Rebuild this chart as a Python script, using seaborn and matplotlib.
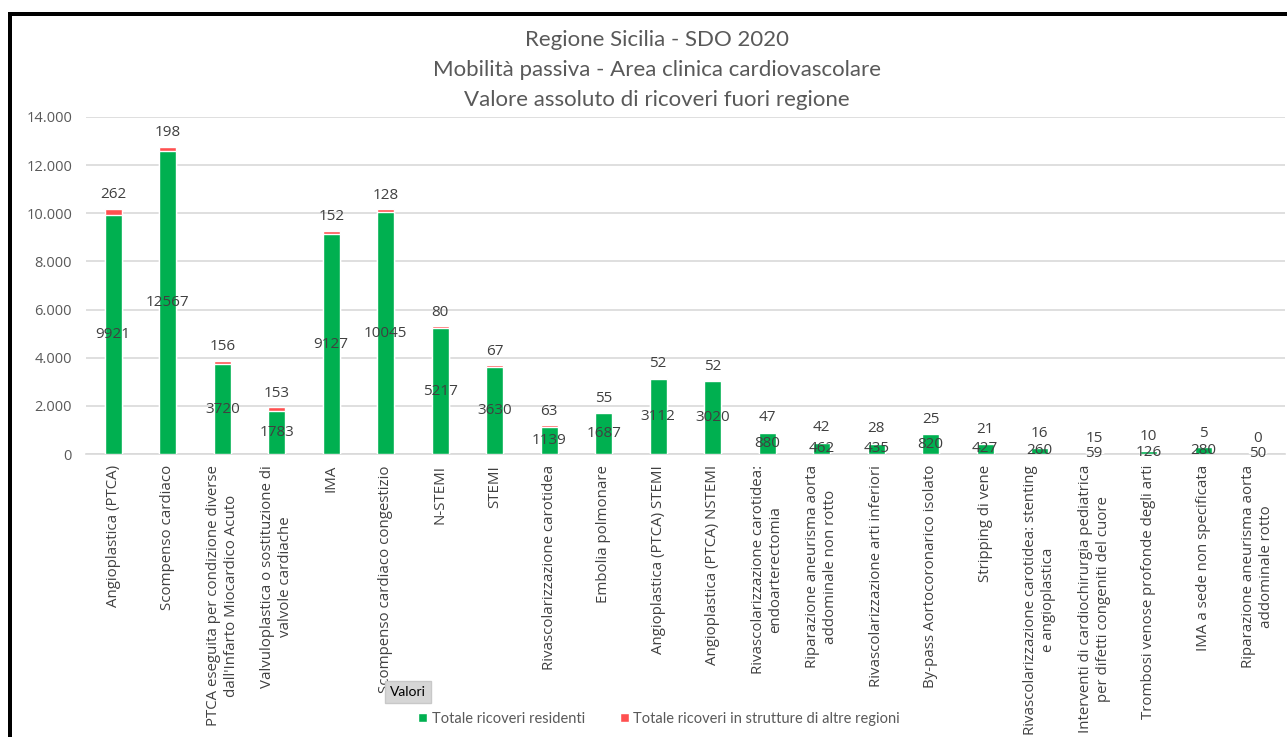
import matplotlib
matplotlib.use("Agg")
import matplotlib.pyplot as plt
from matplotlib.patches import Rectangle
from matplotlib.ticker import FuncFormatter, MultipleLocator
import seaborn as sns
import pandas as pd

# Categorie (interventi / diagnosi)
categorie = [
    "Angioplastica (PTCA)",
    "Scompenso cardiaco",
    "PTCA eseguita per condizione diverse\ndall'Infarto Miocardico Acuto",
    "Valvuloplastica o sostituzione di\nvalvole cardiache",
    "IMA",
    "Scompenso cardiaco congestizio",
    "N-STEMI",
    "STEMI",
    "Rivascolarizzazione carotidea",
    "Embolia polmonare",
    "Angioplastica (PTCA) STEMI",
    "Angioplastica (PTCA) NSTEMI",
    "Rivascolarizzazione carotidea:\nendoarterectomia",
    "Riparazione aneurisma aorta\naddominale non rotto",
    "Rivascolarizzazione arti inferiori",
    "By-pass Aortocoronarico isolato",
    "Stripping di vene",
    "Rivascolarizzazione carotidea: stenting\ne angioplastica",
    "Interventi di cardiochirurgia pediatrica\nper difetti congeniti del cuore",
    "Trombosi venose profonde degli arti",
    "IMA a sede non specificata",
    "Riparazione aneurisma aorta\naddominale rotto",
]

# Totale ricoveri residenti
residenti = [9921, 12567, 3720, 1783, 9127, 10045, 5217, 3630, 1139, 1687,
             3112, 3020, 880, 462, 435, 820, 427, 260, 59, 126, 280, 50]

# Totale ricoveri in strutture di altre regioni
altre_regioni = [262, 198, 156, 153, 152, 128, 80, 67, 63, 55,
                 52, 52, 47, 42, 28, 25, 21, 16, 15, 10, 5, 0]

titolo = ["Regione Sicilia - SDO 2020",
          "Mobilità passiva - Area clinica cardiovascolare",
          "Valore assoluto di ricoveri fuori regione"]

VERDE = "#00B050"
ROSSO = "#FF5050"
TESTO = "#404040"
ASSE = "#595959"

df = pd.DataFrame({"categoria": categorie,
                   "residenti": residenti,
                   "altre": altre_regioni})
df["totale"] = df["residenti"] + df["altre"]

sns.set_theme(style="white")
plt.rcParams["font.family"] = ["Open Sans", "DejaVu Sans"]

W, H = 1287, 737
fig = plt.figure(figsize=(W / 100, H / 100), dpi=100)
ax = fig.add_axes([86 / W, 1 - 454 / H, (1285 - 86) / W, (454 - 117) / H])

# barre impilate: totale (rosso) sotto, residenti (verde) sopra
sns.barplot(data=df, x="categoria", y="totale", color=ROSSO, width=0.31,
            saturation=1, ax=ax, zorder=3)
sns.barplot(data=df, x="categoria", y="residenti", color=VERDE, width=0.31,
            saturation=1, ax=ax, zorder=4)

ax.set_ylim(0, 14000)
ax.set_xlim(-0.5, len(categorie) - 0.5)
ax.yaxis.set_major_locator(MultipleLocator(2000))
ax.yaxis.set_major_formatter(FuncFormatter(lambda v, p: f"{int(v):,}".replace(",", ".")))
ax.grid(axis="y", color="#D9D9D9", linewidth=1.2, zorder=0)
ax.set_axisbelow(True)
for s in ["top", "right", "left"]:
    ax.spines[s].set_visible(False)
ax.spines["bottom"].set_color("#D9D9D9")
ax.spines["bottom"].set_linewidth(1.2)
ax.set_xlabel("")
ax.set_ylabel("")
ax.tick_params(axis="both", length=0)
ax.tick_params(axis="y", labelsize=10.5, labelcolor=ASSE, pad=10)
ax.set_xticks(range(len(categorie)))
ax.set_xticklabels(categorie, rotation=90, ha="center", va="top",
                   multialignment="center", fontsize=10.8, color=TESTO,
                   linespacing=1.25)
ax.tick_params(axis="x", pad=8)

# etichette dei valori
for i, (r, a) in enumerate(zip(df["residenti"], df["altre"])):
    ax.text(i, r / 2, f"{r}", ha="center", va="center", fontsize=11,
            color=TESTO, zorder=6)
    ax.annotate(f"{a}", xy=(i, r + a), xytext=(0, 14), textcoords="offset pixels",
                ha="center", va="center", fontsize=11, color=TESTO, zorder=6)

# titolo
for k, riga in enumerate(titolo):
    fig.text(657 / W, 1 - (40 + 30 * k) / H, riga, ha="center", va="center",
             fontsize=16, color=ASSE, family=["Lato", "DejaVu Sans"])

# pulsante campo "Valori"
fig.text(390 / W, 1 - 692 / H, "Valori", ha="left", va="center", fontsize=10,
         color="black", family=["Lato", "DejaVu Sans"],
         bbox=dict(boxstyle="square,pad=0.35", facecolor="#D6D6D6",
                   edgecolor="#C8C8C8"))

# legenda
h1 = Rectangle((0, 0), 1, 1, facecolor=VERDE)
h2 = Rectangle((0, 0), 1, 1, facecolor=ROSSO)
fig.legend([h1, h2], ["Totale ricoveri residenti",
                      "Totale ricoveri in strutture di altre regioni"],
           loc="center", bbox_to_anchor=(659 / W, 1 - 719 / H), ncol=2,
           frameon=False, handlelength=0.6, handleheight=0.6,
           handletextpad=0.3, columnspacing=2.4,
           prop={"family": ["Lato", "DejaVu Sans"], "size": 10.5},
           labelcolor=ASSE)

# cornice
fig.add_artist(Rectangle((8 / W, 0), 4 / W, 1 - 12 / H, transform=fig.transFigure,
                         facecolor="black", edgecolor="none"))
fig.add_artist(Rectangle((8 / W, 1 - 16 / H), 1, 4 / H, transform=fig.transFigure,
                         facecolor="black", edgecolor="none"))

fig.savefig("out.png", dpi=100, facecolor="white")
